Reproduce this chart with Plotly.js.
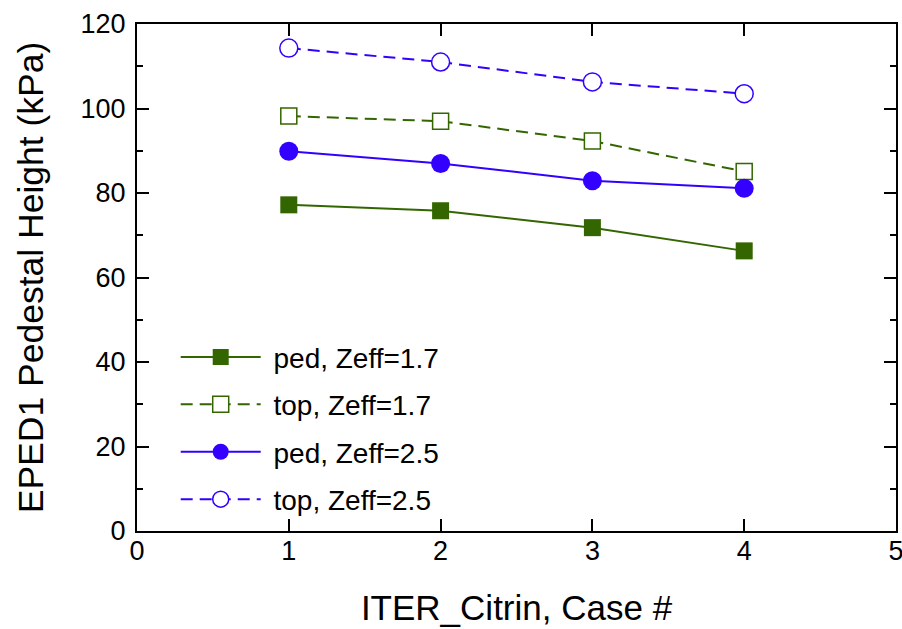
<!DOCTYPE html>
<html>
<head>
<meta charset="utf-8">
<script src="https://cdn.plot.ly/plotly-3.0.1.min.js"></script>
<style>html,body{margin:0;padding:0;background:#fff;}#chart{width:902px;height:629px;}</style>
</head>
<body>
<div id="chart"></div>
<script>
const caseNum = [1, 2, 3, 4];
const pedZ17 = [77.2, 75.8, 71.8, 66.3];
const topZ17 = [98.2, 97.0, 92.3, 85.1];
const pedZ25 = [89.9, 87.0, 82.9, 81.1];
const topZ25 = [114.3, 111.0, 106.3, 103.5];
const seriesNames = ['ped, Zeff=1.7', 'top, Zeff=1.7', 'ped, Zeff=2.5', 'top, Zeff=2.5'];
const xTicks = [0, 1, 2, 3, 4, 5];
const yTicks = [0, 20, 40, 60, 80, 100, 120];

const green = '#336600';
const blue = '#3300ff';
const dashPat = '12px,7px';
const pad = '\u00a0';

const traces = [
  {x: caseNum, y: pedZ17, name: pad + seriesNames[0], legendgroup: 'a', mode: 'lines+markers',
   line: {color: green, width: 2},
   marker: {symbol: 'square', size: 17, color: green, line: {color: green, width: 0}}},
  {x: caseNum, y: topZ17, name: pad + seriesNames[1], legendgroup: 'b', mode: 'lines+markers',
   line: {color: green, width: 2, dash: dashPat},
   marker: {symbol: 'square', size: 16, color: '#ffffff', line: {color: green, width: 1.5}}},
  {x: caseNum, y: pedZ25, name: pad + seriesNames[2], legendgroup: 'c', mode: 'lines+markers',
   line: {color: blue, width: 2},
   marker: {symbol: 'circle', size: 19, color: blue, line: {color: blue, width: 0}}},
  {x: caseNum, y: topZ25, name: pad + seriesNames[3], legendgroup: 'd', mode: 'lines+markers',
   line: {color: blue, width: 2, dash: dashPat},
   marker: {symbol: 'circle', size: 18, color: '#ffffff', line: {color: blue, width: 1.5}}}
];

const fontFam = 'Liberation Sans, Arial, Helvetica, sans-serif';
const layout = {
  width: 902, height: 629,
  margin: {l: 137, r: 6, t: 24, b: 98},
  paper_bgcolor: '#ffffff', plot_bgcolor: '#ffffff',
  font: {family: fontFam, color: '#000', size: 27},
  showlegend: true,
  legend: {
    x: 0.051, y: 0.392, xanchor: 'left', yanchor: 'top',
    bgcolor: 'rgba(0,0,0,0)', borderwidth: 0,
    font: {family: fontFam, size: 28, color: '#000'},
    itemwidth: 80, tracegroupgap: 8, traceorder: 'grouped'
  },
  xaxis: {
    range: [0, 5], tickvals: xTicks, ticktext: xTicks.map(String),
    ticks: 'inside', ticklen: 12, tickwidth: 2, tickcolor: '#000',
    showline: true, linewidth: 2, linecolor: '#000', mirror: 'allticks',
    showgrid: false, zeroline: false, ticklabeloverflow: 'allow', ticklabelstandoff: -5,
    tickfont: {size: 27, family: fontFam},
    title: {text: 'ITER_Citrin, Case #', font: {size: 35, family: fontFam}, standoff: 30}
  },
  yaxis: {
    range: [0, 120], tickvals: yTicks, ticktext: yTicks.map(String),
    ticks: 'inside', ticklen: 12, tickwidth: 2, tickcolor: '#000',
    showline: true, linewidth: 2, linecolor: '#000', mirror: 'allticks',
    showgrid: false, zeroline: false, ticklabeloverflow: 'allow', ticklabelstandoff: 4,
    minor: {dtick: 10, ticks: 'inside', ticklen: 6, tickwidth: 2, tickcolor: '#000', showgrid: false},
    tickfont: {size: 27, family: fontFam},
    title: {text: 'EPED1 Pedestal Height (kPa)', font: {size: 35.5, family: fontFam}, standoff: 26}
  }
};

Plotly.newPlot('chart', traces, layout, {displayModeBar: false, staticPlot: true});
</script>
</body>
</html>
